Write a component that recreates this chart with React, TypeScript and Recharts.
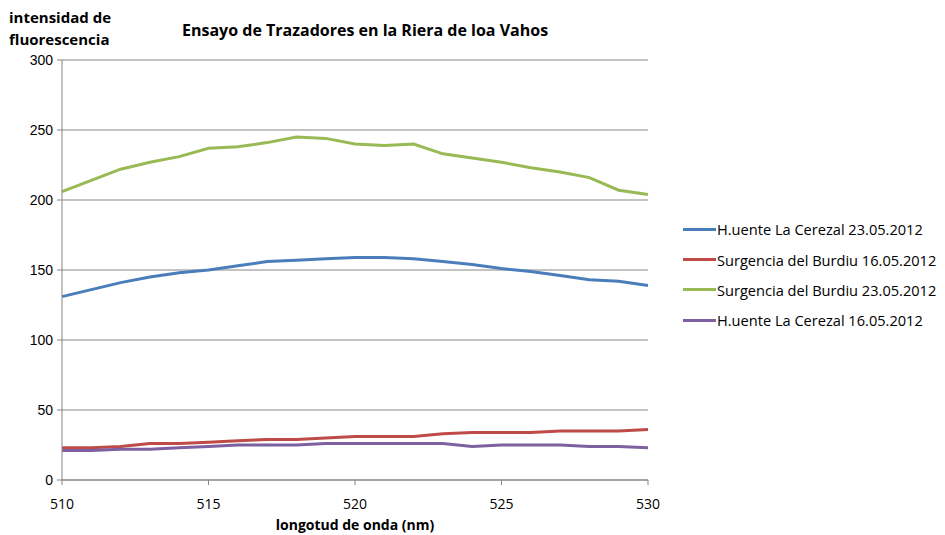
import React from "react";
import { LineChart, Line, XAxis, YAxis, CartesianGrid } from "recharts";

const wavelengths = [510, 511, 512, 513, 514, 515, 516, 517, 518, 519, 520, 521, 522, 523, 524, 525, 526, 527, 528, 529, 530];

const cerezal2305 = [131, 136, 141, 145, 148, 150, 153, 156, 157, 158, 159, 159, 158, 156, 154, 151, 149, 146, 143, 142, 139];
const burdiu1605 = [23, 23, 24, 26, 26, 27, 28, 29, 29, 30, 31, 31, 31, 33, 34, 34, 34, 35, 35, 35, 36];
const burdiu2305 = [206, 214, 222, 227, 231, 237, 238, 241, 245, 244, 240, 239, 240, 233, 230, 227, 223, 220, 216, 207, 204];
const cerezal1605 = [21, 21, 22, 22, 23, 24, 25, 25, 25, 26, 26, 26, 26, 26, 24, 25, 25, 25, 24, 24, 23];

const xTicks = [510, 515, 520, 525, 530];
const yTicks = [0, 50, 100, 150, 200, 250, 300];

const seriesList = [
  { key: "cerezal2305", name: "H.uente La Cerezal 23.05.2012", color: "#4a7ebb" },
  { key: "burdiu1605", name: "Surgencia del Burdiu 16.05.2012", color: "#be4b48" },
  { key: "burdiu2305", name: "Surgencia del Burdiu 23.05.2012", color: "#98b954" },
  { key: "cerezal1605", name: "H.uente La Cerezal 16.05.2012", color: "#7d60a0" },
];

const data = wavelengths.map((w, i) => ({
  w,
  cerezal2305: cerezal2305[i],
  burdiu1605: burdiu1605[i],
  burdiu2305: burdiu2305[i],
  cerezal1605: cerezal1605[i],
}));

const labelFont = "'Open Sans', 'DejaVu Sans', sans-serif";

export default function App() {
  return (
    <div style={{ position: "absolute", left: 0, top: 0, width: 945, height: 535, background: "#fff", fontFamily: labelFont, color: "#000" }}>
      {/* y axis title */}
      <div style={{ position: "absolute", left: 9, top: 6, fontSize: 15, fontWeight: 700, lineHeight: "22px" }}>
        intensidad de
        <br />
        fluorescencia
      </div>
      {/* chart title */}
      <div style={{ position: "absolute", left: 182, top: 19, fontSize: 16, fontWeight: 700 }}>
        Ensayo de Trazadores en la Riera de loa Vahos
      </div>

      <LineChart width={945} height={535} data={data} margin={{ top: 60, right: 297, left: 22, bottom: 15 }}>
        <CartesianGrid vertical={false} stroke="#868686" strokeWidth={1} />
        <XAxis
          dataKey="w"
          type="number"
          domain={[510, 530]}
          ticks={xTicks}
          height={40}
          stroke="#868686"
          tickSize={5}
          tick={{ fill: "#000", fontSize: 14, fontFamily: labelFont }}
          tickMargin={14}
        />
        <YAxis
          domain={[0, 300]}
          ticks={yTicks}
          width={40}
          stroke="#868686"
          tickSize={5}
          tick={{ fill: "#000", fontSize: 14, fontFamily: "'Liberation Sans', Arial, sans-serif" }}
          tickMargin={4}
        />
        {seriesList.map((s) => (
          <Line
            key={s.key}
            dataKey={s.key}
            name={s.name}
            stroke={s.color}
            strokeWidth={3}
            dot={false}
            type="linear"
            isAnimationActive={false}
          />
        ))}
      </LineChart>

      {/* x axis title */}
      <div style={{ position: "absolute", left: 0, width: 710, top: 515, textAlign: "center", fontSize: 14, fontWeight: 700 }}>
        longotud de onda (nm)
      </div>

      {/* legend */}
      <div style={{ position: "absolute", left: 683, top: 214, fontSize: 14.6 }}>
        {seriesList.map((s) => (
          <div key={s.key} style={{ display: "flex", alignItems: "center", height: 30.4 }}>
            <div style={{ width: 33, height: 3, background: s.color }} />
            <span style={{ marginLeft: 1 }}>{s.name}</span>
          </div>
        ))}
      </div>
    </div>
  );
}
